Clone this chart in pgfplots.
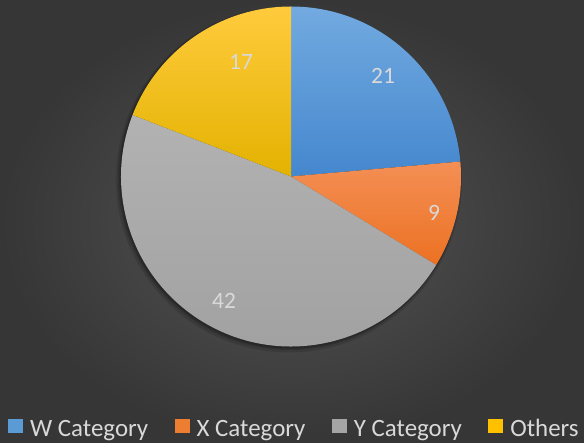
\documentclass[border=0pt]{standalone}
\usepackage{pgfplots}
\pgfplotsset{compat=1.18}
\usepackage{pgfplotstable}
\usepackage{fontspec}
\setmainfont{Carlito}

\definecolor{bgin}{HTML}{555555}
\definecolor{bgout}{HTML}{363636}
\definecolor{wtop}{HTML}{72AAE0}
\definecolor{wbot}{HTML}{4587CE}
\definecolor{xtop}{HTML}{F48F55}
\definecolor{xbot}{HTML}{EC7122}
\definecolor{ytop}{HTML}{B2B2B2}
\definecolor{ybot}{HTML}{A0A0A0}
\definecolor{otop}{HTML}{FFCB3D}
\definecolor{obot}{HTML}{E3B200}
\definecolor{wleg}{HTML}{5B9BD5}
\definecolor{xleg}{HTML}{ED7D31}
\definecolor{yleg}{HTML}{A5A5A5}
\definecolor{oleg}{HTML}{FFC000}
\definecolor{txt}{HTML}{D9D9D9}

\pgfplotstableread{
idx value
0 21
1 9
2 42
3 17
}\piedata

\begin{document}
\begin{tikzpicture}
\shade[inner color=bgin, outer color=bgout] (0,0) rectangle (584bp,443bp);
\pgfplotstablegetelem{0}{value}\of\piedata \let\vW\pgfplotsretval
\pgfplotstablegetelem{1}{value}\of\piedata \let\vX\pgfplotsretval
\pgfplotstablegetelem{2}{value}\of\piedata \let\vY\pgfplotsretval
\pgfplotstablegetelem{3}{value}\of\piedata \let\vO\pgfplotsretval
\pgfmathsetmacro\total{\vW+\vX+\vY+\vO}
\pgfmathsetmacro\aA{90}
\pgfmathsetmacro\aB{\aA-360*\vW/\total}
\pgfmathsetmacro\aC{\aB-360*\vX/\total}
\pgfmathsetmacro\aD{\aC-360*\vY/\total}
\pgfmathsetmacro\aE{\aD-360*\vO/\total}
\begin{axis}[
  at={(0,0)}, anchor=south west,
  scale only axis, width=584bp, height=443bp,
  xmin=0, xmax=584, ymin=0, ymax=443,
  hide axis, clip=false,
  legend columns=4,
  legend image code/.code={\fill[#1, draw=none] (0bp,-4bp) rectangle (15bp,10bp);},
  legend style={at={(axis cs:5,14)}, anchor=west, draw=none, fill=none,
    text=txt, font=\fontsize{25}{28}\selectfont,
    /tikz/every odd column/.append style={column sep=5bp},
    /tikz/every even column/.append style={column sep=24.5bp}},
]
\addlegendimage{fill=wleg}\addlegendentry{W Category}
\addlegendimage{fill=xleg}\addlegendentry{X Category}
\addlegendimage{fill=yleg}\addlegendentry{Y Category}
\addlegendimage{fill=oleg}\addlegendentry{Others}
% shadow
\fill[black, opacity=0.12] (axis cs:289,263.5) circle[radius=173bp];
\fill[black, opacity=0.15] (axis cs:289.5,264.5) circle[radius=171.5bp];
\fill[black, opacity=0.2] (axis cs:290,265) circle[radius=170.5bp];
% slices
\shade[top color=wtop, bottom color=wbot] (axis cs:291,266.5) -- ++(\aA:170bp) arc[start angle=\aA, end angle=\aB, radius=170bp] -- cycle;
\shade[top color=xtop, bottom color=xbot] (axis cs:291,266.5) -- ++(\aB:170bp) arc[start angle=\aB, end angle=\aC, radius=170bp] -- cycle;
\shade[top color=ytop, bottom color=ybot] (axis cs:291,266.5) -- ++(\aC:170bp) arc[start angle=\aC, end angle=\aD, radius=170bp] -- cycle;
\shade[top color=otop, bottom color=obot] (axis cs:291,266.5) -- ++(\aD:170bp) arc[start angle=\aD, end angle=\aE, radius=170bp] -- cycle;
% labels
\node[text=txt, font=\fontsize{23.5}{26}\selectfont] at (axis cs:383,367) {21};
\node[text=txt, font=\fontsize{23.5}{26}\selectfont] at (axis cs:434,230) {9};
\node[text=txt, font=\fontsize{23.5}{26}\selectfont] at (axis cs:224,142) {42};
\node[text=txt, font=\fontsize{23.5}{26}\selectfont] at (axis cs:241,381) {17};
\end{axis}
\pgfresetboundingbox
\useasboundingbox (0,0) rectangle (584bp,443bp);
\end{tikzpicture}
\end{document}
